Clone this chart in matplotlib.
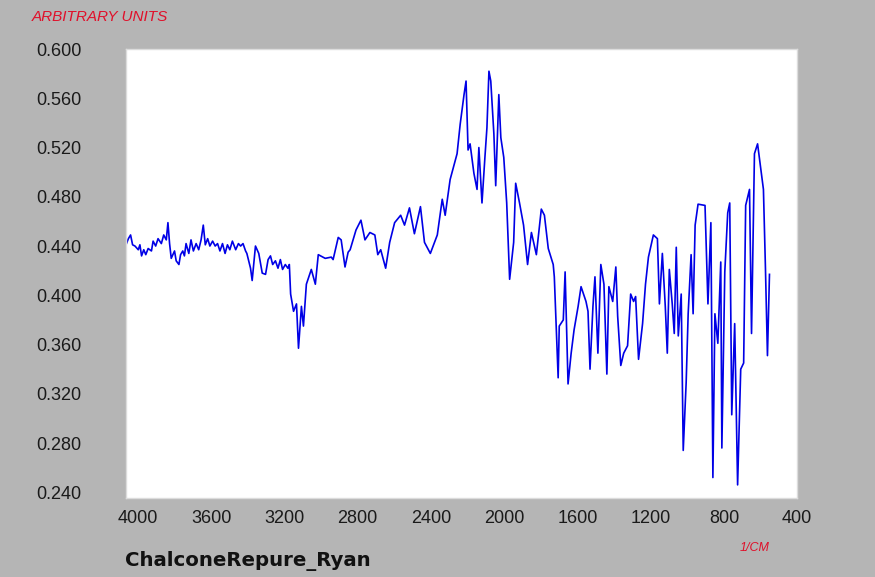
import numpy as np
import matplotlib
matplotlib.use("Agg")
import matplotlib.pyplot as plt

# spectrum (wavenumber in 1/cm, arbitrary units)
wavenumber = [
    4065, 4052, 4040, 4029, 4016, 3998, 3989, 3980, 3968, 3957, 3944, 3926,
    3917, 3903, 3890, 3872, 3859, 3845, 3836, 3827, 3818, 3800, 3791, 3776,
    3767, 3755, 3746, 3737, 3722, 3710, 3697, 3682, 3668, 3655, 3643, 3632,
    3619, 3607, 3592, 3578, 3565, 3552, 3538, 3524, 3511, 3498, 3484, 3466,
    3451, 3439, 3426, 3412, 3405, 3385, 3376, 3358, 3340, 3321, 3303, 3289,
    3276, 3264, 3249, 3235, 3222, 3210, 3195, 3181, 3173, 3166,
    3150, 3134, 3123, 3107, 3096, 3080, 3053, 3031, 3015, 2977, 2944, 2934,
    2906, 2890, 2869, 2852, 2841, 2809, 2782, 2760, 2733, 2706, 2690, 2674,
    2647, 2625, 2598, 2565, 2544, 2517, 2490, 2457, 2435, 2403, 2365, 2338,
    2322, 2295, 2257, 2240, 2219, 2208, 2197, 2186, 2165, 2148, 2138, 2121,
    2105, 2094, 2083, 2073, 2056, 2046, 2029, 2018, 2002, 1986, 1970, 1948,
    1937, 1916, 1894, 1872, 1851, 1824, 1797, 1780, 1759, 1732, 1726, 1705,
    1699, 1677, 1667, 1651, 1634, 1618, 1596, 1580, 1553, 1542, 1531, 1515,
    1504, 1488, 1472, 1455, 1439, 1428, 1407, 1390, 1380, 1363, 1347, 1326,
    1309, 1293, 1282, 1266, 1244, 1228, 1212, 1185, 1163, 1152, 1136, 1120,
    1109, 1098, 1082, 1071, 1060, 1049, 1033, 1022, 1006, 995, 979, 968,
    957, 941, 903, 887, 871, 860, 849, 833, 817, 811, 795, 779,
    768, 757, 741, 725, 708, 692, 681, 660, 649, 633, 616, 595,
    584, 573, 562, 551,
]
intensity = [
    0.441, 0.446, 0.449, 0.441, 0.440, 0.437, 0.441, 0.432, 0.437, 0.433, 0.438, 0.436,
    0.444, 0.440, 0.446, 0.442, 0.449, 0.445, 0.459, 0.442, 0.430, 0.436, 0.428, 0.425,
    0.433, 0.436, 0.432, 0.442, 0.434, 0.445, 0.436, 0.442, 0.437, 0.445, 0.457, 0.441,
    0.446, 0.440, 0.444, 0.440, 0.442, 0.436, 0.442, 0.434, 0.441, 0.437, 0.444, 0.437,
    0.442, 0.440, 0.442, 0.436, 0.434, 0.422, 0.412, 0.440, 0.434, 0.418, 0.417, 0.429,
    0.432, 0.425, 0.428, 0.422, 0.429, 0.421, 0.425, 0.422, 0.425, 0.401,
    0.387, 0.393, 0.357, 0.391, 0.375, 0.409, 0.421, 0.409, 0.433, 0.430, 0.431, 0.429,
    0.447, 0.445, 0.423, 0.435, 0.437, 0.453, 0.461, 0.445, 0.451, 0.449, 0.433, 0.437,
    0.422, 0.443, 0.459, 0.465, 0.457, 0.471, 0.450, 0.472, 0.443, 0.434, 0.449, 0.478,
    0.465, 0.494, 0.515, 0.539, 0.563, 0.574, 0.518, 0.523, 0.499, 0.486, 0.520, 0.475,
    0.512, 0.536, 0.582, 0.574, 0.531, 0.489, 0.563, 0.528, 0.512, 0.475, 0.413, 0.443,
    0.491, 0.475, 0.457, 0.425, 0.451, 0.433, 0.470, 0.465, 0.438, 0.425, 0.415, 0.333,
    0.375, 0.380, 0.419, 0.328, 0.353, 0.372, 0.391, 0.407, 0.395, 0.387, 0.340, 0.391,
    0.415, 0.353, 0.425, 0.409, 0.336, 0.407, 0.395, 0.423, 0.383, 0.343, 0.353, 0.359,
    0.401, 0.395, 0.399, 0.348, 0.377, 0.409, 0.431, 0.449, 0.446, 0.393, 0.434, 0.391,
    0.353, 0.421, 0.393, 0.369, 0.439, 0.367, 0.401, 0.274, 0.329, 0.385, 0.433, 0.385,
    0.457, 0.474, 0.473, 0.393, 0.459, 0.252, 0.385, 0.361, 0.427, 0.276, 0.419, 0.467,
    0.475, 0.303, 0.377, 0.246, 0.340, 0.345, 0.473, 0.486, 0.369, 0.515, 0.523, 0.499,
    0.486, 0.422, 0.351, 0.417,
]

x_ticks = [4000, 3600, 3200, 2800, 2400, 2000, 1600, 1200, 800, 400]
y_ticks = [0.240, 0.280, 0.320, 0.360, 0.400, 0.440, 0.480, 0.520, 0.560, 0.600]

plt.rcParams["font.family"] = ["Liberation Sans", "DejaVu Sans"]

bg = "#b5b5b5"
fig = plt.figure(figsize=(8.75, 5.77), dpi=100, facecolor=bg)
ax = fig.add_axes([0.144, 0.137, 0.767, 0.778])
ax.set_facecolor("white")

ax.plot(wavenumber, intensity, color="#0000e6", lw=1.2)

ax.set_xlim(4065, 432)
ax.set_ylim(0.2354, 0.5928)
ax.set_xticks(x_ticks)
ax.set_xticklabels([str(t) for t in x_ticks])
ax.set_yticks(y_ticks)
ax.set_yticklabels([f"{t:.3f}" for t in y_ticks])
ax.tick_params(length=0, labelsize=13, colors="#1a1a1a")
ax.tick_params(axis="y", pad=32)
ax.tick_params(axis="x", pad=9)
for s in ax.spines.values():
    s.set_color("#dcdcdc")
    s.set_linewidth(1)

fig.text(32 / 875, 1 - 17 / 577, "ARBITRARY UNITS", color="#e0102a",
         style="italic", fontsize=11, va="center", ha="left")
fig.text(755 / 875, 1 - 548 / 577, "1/CM", color="#e0102a",
         style="italic", fontsize=9, va="center", ha="center")
fig.text(125 / 875, 1 - 561 / 577, "ChalconeRepure_Ryan", color="#111111",
         family="DejaVu Sans", fontweight="bold", fontsize=14.2,
         va="center", ha="left")

fig.savefig("out.png", dpi=100, facecolor=bg)
